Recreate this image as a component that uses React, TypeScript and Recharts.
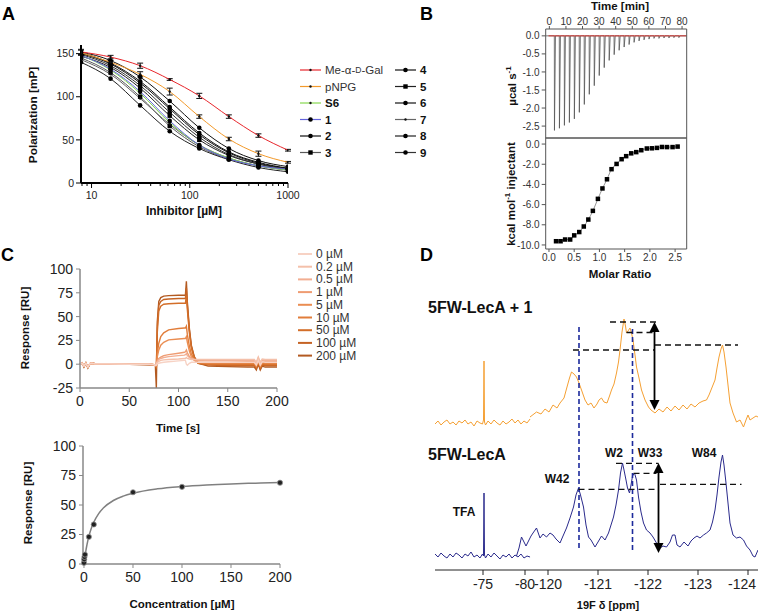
import React from 'react';
import { LineChart, Line, XAxis, YAxis, ReferenceLine, ErrorBar } from 'recharts';

const FONT = "'Liberation Sans', Arial, Helvetica, sans-serif";

// ---------------- Panel A : fluorescence polarization ----------------
const A_CONC = [7.8125, 15.625, 31.25, 62.5, 125, 250, 500, 1000];
const A_ME_GAL = [152, 146, 136, 120, 101, 77, 55, 38];
const A_ME_GAL_ERR = [3, 2, 3, 1, 3, 2, 2, 1];
const A_PNPG = [151, 140, 126, 106, 77, 51, 34, 24];
const A_PNPG_ERR = [3, 2, 3, 4, 2, 2, 3, 1];
const A_S6 = [148, 131, 104, 70, 44, 29, 20, 15];
const A_C1 = [148, 132, 106, 72, 44, 28, 20, 16];
const A_C2 = [150, 138, 116, 86, 56, 35, 23, 17];
const A_C3 = [145, 128, 100, 66, 42, 28, 20, 15];
const A_C4 = [152, 142, 123, 95, 64, 40, 26, 19];
const A_C5 = [147, 134, 110, 78, 50, 32, 22, 16];
const A_C6 = [151, 139, 118, 88, 58, 36, 24, 17];
const A_C7 = [143, 126, 98, 68, 44, 29, 20, 15];
const A_C8 = [140, 121, 90, 60, 40, 27, 18, 13];
const A_C9 = [149, 136, 113, 82, 53, 33, 22, 16];
const A_X_TICKS = [8, 9, 10, 20, 30, 40, 50, 60, 70, 80, 90, 100, 200, 300, 400, 500, 600, 700, 800, 900, 1000];
const A_X_LABELS = [10, 100, 1000];
const A_Y_TICKS = [0, 50, 100, 150];

const A_SERIES = [
  { key: 'c2', name: '2', values: A_C2, color: '#111111', bold: true, marker: 'circle', col: 0, row: 4 },
  { key: 'c3', name: '3', values: A_C3, color: '#5a5a5a', bold: true, marker: 'square', col: 0, row: 5 },
  { key: 'c4', name: '4', values: A_C4, color: '#111111', bold: true, marker: 'circle', col: 1, row: 0 },
  { key: 'c5', name: '5', values: A_C5, color: '#222222', bold: true, marker: 'square', col: 1, row: 1 },
  { key: 'c6', name: '6', values: A_C6, color: '#111111', bold: true, marker: 'circle', col: 1, row: 2 },
  { key: 'c7', name: '7', values: A_C7, color: '#666666', bold: true, marker: 'small', col: 1, row: 3 },
  { key: 'c8', name: '8', values: A_C8, color: '#222222', bold: true, marker: 'circle', col: 1, row: 4 },
  { key: 'c9', name: '9', values: A_C9, color: '#333333', bold: true, marker: 'circle', col: 1, row: 5 },
  { key: 's6', name: 'S6', values: A_S6, color: '#86d84f', bold: true, marker: 'small', col: 0, row: 2 },
  { key: 'c1', name: '1', values: A_C1, color: '#6464dc', bold: true, marker: 'circle', col: 0, row: 3 },
  { key: 'pnpg', name: 'pNPG', values: A_PNPG, err: A_PNPG_ERR, color: '#f39a2b', bold: false, marker: 'small', col: 0, row: 1 },
  { key: 'me', name: 'Me-α-D-Gal', values: A_ME_GAL, err: A_ME_GAL_ERR, color: '#e8262c', bold: false, marker: 'small', col: 0, row: 0 },
];

const A_TABLE = A_CONC.map((c, i) => {
  const row: any = { c };
  A_SERIES.forEach((s: any) => {
    row[s.key] = s.values[i];
    if (s.err) row[s.key + 'Err'] = s.err[i];
  });
  return row;
});

const A_PLOT_BOTTOM = 183;

const markerEl = (marker: string, cx: number, cy: number, color: string, key?: any) => {
  const fill = marker === 'small' ? '#111' : '#000';
  if (marker === 'square') return <rect key={key} x={cx - 2.2} y={cy - 2.2} width={4.4} height={4.4} fill={fill} />;
  if (marker === 'circle') return <circle key={key} cx={cx} cy={cy} r={2.3} fill={fill} />;
  return <circle key={key} cx={cx} cy={cy} r={1.2} fill={fill} />;
};

const makeDot = (marker: string, color: string) => (p: any) => {
  if (p.cx == null || p.cy == null) return <g key={p.index} />;
  return markerEl(marker, p.cx, p.cy, color, p.index);
};

const LogTick = (props: any) => {
  const { x, payload } = props;
  const v = payload.value;
  const major = A_X_LABELS.includes(v);
  const ay = A_PLOT_BOTTOM;
  return (
    <g>
      <line x1={x} x2={x} y1={ay} y2={ay + (major ? 5 : 3)} stroke="#000" strokeWidth={1} />
      {major && (
        <text x={x} y={ay + 16} textAnchor="middle" fontSize={10.5} fill="#222" fontFamily={FONT}>
          {v}
        </text>
      )}
    </g>
  );
};

const PanelA = () => (
  <LineChart width={300} height={230} margin={{ top: 45, right: 12, bottom: 17, left: 41 }}>
    <XAxis
      dataKey="c"
      type="number"
      scale="log"
      domain={[7.8125, 1000]}
      allowDataOverflow
      ticks={A_X_TICKS}
      interval={0}
      height={30}
      tickLine={false}
      tick={<LogTick />}
      axisLine={{ stroke: '#000', strokeWidth: 2 }}
    />
    <YAxis
      type="number"
      domain={[0, 160]}
      ticks={A_Y_TICKS}
      interval={0}
      width={40}
      tickSize={5}
      tickMargin={2}
      axisLine={{ stroke: '#000', strokeWidth: 2 }}
      tickLine={{ stroke: '#000' }}
      tick={{ fontSize: 10.5, fill: '#222', fontFamily: FONT }}
    />
    {A_SERIES.map((s: any) => (
      <Line
        key={s.key}
        data={A_TABLE}
        dataKey={s.key}
        type="monotone"
        stroke={s.color}
        strokeWidth={1}
        dot={makeDot(s.marker, s.color)}
        activeDot={false}
        isAnimationActive={false}
      >
        {s.err && <ErrorBar dataKey={s.key + 'Err'} width={3} stroke="#111" strokeWidth={1} />}
      </Line>
    ))}
  </LineChart>
);

// ---------------- Panel B : ITC ----------------
const ITC_INJ_TIME = [3, 6, 9, 12, 15, 18, 21, 24, 27, 30, 33, 36, 39, 42, 45, 48, 51, 54, 57, 60, 63, 66, 69, 72, 75, 78];
const ITC_PEAK = [-2.62, -2.56, -2.48, -2.4, -2.3, -2.12, -1.9, -1.62, -1.38, -1.1, -0.88, -0.68, -0.52, -0.4, -0.31, -0.24, -0.18, -0.14, -0.11, -0.09, -0.07, -0.07, -0.06, -0.06, -0.05, -0.05];
const ITC_TIME_TICKS = [0, 10, 20, 30, 40, 50, 60, 70, 80];
const ITC_RAW_TICKS = [0, -0.5, -1, -1.5, -2, -2.5];
const ITC_RATIO = [0.14, 0.23, 0.32, 0.42, 0.5, 0.6, 0.69, 0.78, 0.87, 0.97, 1.06, 1.15, 1.24, 1.34, 1.44, 1.53, 1.63, 1.73, 1.83, 1.94, 2.04, 2.14, 2.24, 2.34, 2.45, 2.55];
const ITC_HEAT = [-9.63, -9.63, -9.46, -9.46, -9.05, -8.72, -8.17, -7.48, -6.62, -5.43, -4.4, -3.49, -2.49, -1.97, -1.5, -1.2, -0.92, -0.8, -0.61, -0.44, -0.42, -0.38, -0.29, -0.3, -0.3, -0.25];
const ITC_RATIO_TICKS = [0, 0.5, 1, 1.5, 2, 2.5];
const ITC_HEAT_TICKS = [0, -2, -4, -6, -8, -10];

const ITC_TRACE = [
  { t: -2, v: 0 },
  ...ITC_INJ_TIME.flatMap((t, i) => [
    { t, v: 0 },
    { t: t + 0.08, v: ITC_PEAK[i] },
    { t: t + 0.7, v: 0 },
  ]),
  { t: 82.8, v: 0 },
];
const ITC_BASELINE = [
  { t: -0.5, v: 0 },
  { t: 82.8, v: 0 },
];
const ITC_POINTS = ITC_RATIO.map((r, i) => ({ r, h: ITC_HEAT[i] }));

const squareDot = (size: number, color: string) => (p: any) => {
  if (p.cx == null) return <g key={p.index} />;
  return <rect key={p.index} x={p.cx - size / 2} y={p.cy - size / 2} width={size} height={size} fill={color} />;
};

const itcTick = { fontSize: 10, fill: '#333', fontFamily: FONT };

const PanelBTop = () => (
  <LineChart width={378} height={150} margin={{ top: 3, right: 71.3, bottom: 12, left: 125.7 }}>
    <XAxis
      xAxisId="t"
      orientation="top"
      type="number"
      dataKey="t"
      domain={[-2.2, 82.8]}
      allowDataOverflow
      ticks={ITC_TIME_TICKS}
      interval={0}
      height={26}
      tickSize={3}
      tickMargin={1}
      tick={itcTick}
      axisLine={{ stroke: '#555' }}
      tickLine={{ stroke: '#555' }}
    />
    <XAxis
      xAxisId="b"
      orientation="bottom"
      type="number"
      dataKey="t"
      domain={[-2.2, 82.8]}
      allowDataOverflow
      ticks={ITC_TIME_TICKS}
      interval={0}
      mirror
      tick={false}
      tickSize={3}
      axisLine={{ stroke: '#555' }}
      tickLine={{ stroke: '#555' }}
    />
    <YAxis
      yAxisId="l"
      type="number"
      domain={[-2.83, 0.19]}
      allowDataOverflow
      ticks={ITC_RAW_TICKS}
      interval={0}
      width={40}
      tickSize={4}
      tickMargin={2}
      tickFormatter={(v: number) => v.toFixed(1)}
      tick={itcTick}
      axisLine={{ stroke: '#555' }}
      tickLine={{ stroke: '#555' }}
    />
    <YAxis
      yAxisId="r"
      orientation="right"
      type="number"
      domain={[-2.83, 0.19]}
      allowDataOverflow
      ticks={ITC_RAW_TICKS}
      interval={0}
      mirror
      tick={false}
      tickSize={3}
      axisLine={{ stroke: '#555' }}
      tickLine={{ stroke: '#555' }}
    />
    <Line xAxisId="t" yAxisId="l" data={ITC_TRACE} dataKey="v" type="linear" stroke="#555" strokeWidth={0.8} dot={false} activeDot={false} isAnimationActive={false} />
    <Line xAxisId="t" yAxisId="l" data={ITC_BASELINE} dataKey="v" type="linear" stroke="#d0312d" strokeWidth={1} dot={false} activeDot={false} isAnimationActive={false} />
  </LineChart>
);

const PanelBBottom = () => (
  <LineChart width={378} height={160} margin={{ top: 8, right: 71.3, bottom: 11, left: 125.7 }}>
    <XAxis
      xAxisId="m"
      orientation="bottom"
      type="number"
      dataKey="r"
      domain={[-0.065, 2.73]}
      allowDataOverflow
      ticks={ITC_RATIO_TICKS}
      interval={0}
      height={30}
      tickSize={3}
      tickMargin={2}
      tickFormatter={(v: number) => v.toFixed(1)}
      tick={itcTick}
      axisLine={{ stroke: '#555' }}
      tickLine={{ stroke: '#555' }}
    />
    <XAxis
      xAxisId="tp"
      orientation="top"
      type="number"
      dataKey="r"
      domain={[-0.065, 2.73]}
      allowDataOverflow
      ticks={ITC_RATIO_TICKS}
      interval={0}
      mirror
      tick={false}
      tickSize={3}
      axisLine={{ stroke: '#555' }}
      tickLine={{ stroke: '#555' }}
    />
    <YAxis
      yAxisId="l"
      type="number"
      domain={[-10.4, 0.6]}
      allowDataOverflow
      ticks={ITC_HEAT_TICKS}
      interval={0}
      width={40}
      tickSize={4}
      tickMargin={2}
      tickFormatter={(v: number) => v.toFixed(1)}
      tick={itcTick}
      axisLine={{ stroke: '#555' }}
      tickLine={{ stroke: '#555' }}
    />
    <YAxis
      yAxisId="r"
      orientation="right"
      type="number"
      domain={[-10.4, 0.6]}
      allowDataOverflow
      ticks={ITC_HEAT_TICKS}
      interval={0}
      mirror
      tick={false}
      tickSize={3}
      axisLine={{ stroke: '#555' }}
      tickLine={{ stroke: '#555' }}
    />
    <Line xAxisId="m" yAxisId="l" data={ITC_POINTS} dataKey="h" type="monotone" stroke="#777" strokeWidth={0.8} dot={squareDot(4.5, '#000')} activeDot={false} isAnimationActive={false} />
  </LineChart>
);

// ---------------- Panel C : SPR ----------------
const SPR_TIME = [0, 2, 4, 6, 8, 10, 12, 15, 30, 50, 70, 75, 76.5, 77.5, 78.5, 80, 82, 85, 90, 100, 106, 107, 108, 109, 111, 113, 116, 120, 130, 150, 170, 177, 179, 181, 183, 185, 188, 200];
const SPR_0 = [0, 1, -2, 1, -3, 0.5, 1, 0.5, 0.3, 0, 0, -0.5, -1.5, -1, 0.5, 1, 1.5, 2, 2.5, 3.5, 4, 4, 0, -1, 1, 2, 2, 2, 2, 2, 2, 2, -1, 4, -1, 2.5, 2, 2];
const SPR_02 = [0, 1, -2, 1, -3, 0.5, 1, 0.5, 0.3, 0, 0, -0.5, -1, 0.5, 2, 3, 4, 4.5, 5, 5.5, 6, 6, 7, 6, 5.5, 5, 5, 5, 5, 5, 5, 5, 2, 7.5, 2, 5.5, 5, 5];
const SPR_05 = [0, 1, -2, 1, -3, 0.5, 1, 0.5, 0.3, 0, 0, -0.5, -1, 0.5, 3, 5, 6, 7, 8, 9, 9.5, 10, 11, 9, 7, 6, 5, 4.5, 4, 4, 4, 4, 1, 6.5, 1, 4.5, 4, 4];
const SPR_1 = [0, 1, -2, 1, -3, 0.5, 1, 0.5, 0.3, 0, 0, -0.5, -1, 0, 4, 6, 7.5, 9, 10, 11.5, 12.5, 13, 15, 12, 8, 6, 5, 4, 3.5, 3.5, 3, 3, 0, 5.5, 0, 3.5, 3, 3];
const SPR_5 = [0, 1, -2, 1, -3, 0.5, 1, 0.5, 0.3, 0, 0, -0.5, -1, -1.5, 8, 15, 20, 23, 25.5, 26.5, 27, 27, 29, 23, 14, 8, 4, 2, 1.5, 1.5, 1.5, 1.5, -1.5, 4, -1.5, 2, 1.5, 1.5];
const SPR_10 = [0, 1, -2, 1, -3, 0.5, 1, 0.5, 0.3, 0, 0, -0.5, -1, -2, 12, 22, 29, 33, 36, 37.5, 38, 38, 40, 31, 19, 11, 5, 1.5, 0.5, 0.5, 0.5, 0.5, -2.5, 3, -2.5, 1, 0.5, 0.5];
const SPR_50 = [0, 1, -2, 1, -3, 0.5, 1, 0.5, 0.3, 0, 0, -0.5, -1, -3, 34, 56, 61, 63, 63.5, 64, 64, 64, 72, 57, 33, 17, 6.5, 1, 0, -0.5, -0.5, -0.5, -3.5, 2.5, -3.5, 0, -0.5, -0.5];
const SPR_100 = [0, 1, -2.5, 1.5, -3.5, 0, 1, 0.5, 0.3, 0, -0.3, -0.5, -1, -4, 40, 62, 66, 68, 68.5, 69, 69, 69, 80, 62, 36, 19, 7.5, 1, -1, -1.5, -1.5, -1.5, -4.5, 1.5, -4.5, -1, -1.5, -1.5];
const SPR_200 = [0, 1.5, -3, 1, -4, 0, 1.5, 0.5, 0.5, 0, -0.5, -0.5, -1.5, -25, 45, 66, 70, 71.5, 72, 72.5, 72.5, 72.5, 87, 65, 38, 20, 8, 1, -2, -2.5, -3, -3, -6, 0, -6, -2, -3, -3];
const SPR_LABELS = ['0 µM', '0.2 µM', '0.5 µM', '1 µM', '5 µM', '10 µM', '50 µM', '100 µM', '200 µM'];
const SPR_COLORS = ['#f7d2c4', '#f4c0aa', '#f2ae92', '#ef9c72', '#ea8d52', '#e17d3a', '#d36e29', '#c56324', '#b35a21'];
const SPR_SERIES = [SPR_0, SPR_02, SPR_05, SPR_1, SPR_5, SPR_10, SPR_50, SPR_100, SPR_200];
const SPR_TABLE = SPR_TIME.map((t, i) => {
  const row: any = { t };
  SPR_SERIES.forEach((s, k) => {
    row['s' + k] = s[i];
  });
  return row;
});
const SPR_X_TICKS = [0, 50, 100, 150, 200];
const SPR_Y_TICKS = [-25, 0, 25, 50, 75, 100];
const SPR_DRAW_ORDER = [8, 7, 6, 5, 4, 3, 2, 1, 0];

const KD_CONC = [0, 0.2, 0.5, 1, 5, 10, 50, 100, 200];
const KD_RESP = [1, 4, 6, 8, 23, 33.5, 60.8, 65.4, 68.9];
const KD_FIT_CONC = [0, 0.5, 1, 2, 3, 5, 7.5, 10, 15, 20, 30, 40, 50, 75, 100, 125, 150, 175, 200];
const KD_FIT_RESP = [0, 3.3, 6.3, 11.6, 16.1, 23.4, 30.3, 35.4, 42.7, 47.6, 53.8, 57.5, 60, 63.7, 65.7, 67, 67.9, 68.5, 69];
const KD_POINTS = KD_CONC.map((c, i) => ({ c, r: KD_RESP[i] }));
const KD_FIT = KD_FIT_CONC.map((c, i) => ({ c, r: KD_FIT_RESP[i] }));
const KD_X_TICKS = [0, 50, 100, 150, 200];
const KD_Y_TICKS = [0, 25, 50, 75, 100];

const cTick = { fontSize: 14, fill: '#222', fontFamily: FONT };

const PanelCTop = () => (
  <LineChart width={380} height={190} data={SPR_TABLE} margin={{ top: 24, right: 103, bottom: 17, left: 30 }}>
    <XAxis
      dataKey="t"
      type="number"
      domain={[0, 200]}
      ticks={SPR_X_TICKS}
      interval={0}
      height={30}
      tickSize={4}
      tickMargin={4}
      tick={cTick}
      axisLine={{ stroke: '#888', strokeWidth: 1.5 }}
      tickLine={{ stroke: '#888' }}
    />
    <YAxis
      type="number"
      domain={[-25, 100]}
      ticks={SPR_Y_TICKS}
      interval={0}
      width={50}
      tickSize={4}
      tickMargin={3}
      tick={cTick}
      axisLine={{ stroke: '#888', strokeWidth: 1.5 }}
      tickLine={{ stroke: '#888' }}
    />
    {SPR_DRAW_ORDER.map((k) => (
      <Line
        key={k}
        dataKey={'s' + k}
        type="linear"
        stroke={SPR_COLORS[k]}
        strokeWidth={1.4}
        dot={false}
        activeDot={false}
        isAnimationActive={false}
      />
    ))}
  </LineChart>
);

const PanelCBottom = () => (
  <LineChart width={380} height={183} margin={{ top: 16, right: 100, bottom: 19, left: 33 }}>
    <XAxis
      dataKey="c"
      type="number"
      domain={[-1, 200]}
      ticks={KD_X_TICKS}
      interval={0}
      height={30}
      tickSize={4}
      tickMargin={4}
      tick={cTick}
      axisLine={{ stroke: '#888', strokeWidth: 1.5 }}
      tickLine={{ stroke: '#888' }}
    />
    <YAxis
      type="number"
      domain={[0, 100]}
      ticks={KD_Y_TICKS}
      interval={0}
      width={50}
      tickSize={4}
      tickMargin={3}
      tick={cTick}
      axisLine={{ stroke: '#888', strokeWidth: 1.5 }}
      tickLine={{ stroke: '#888' }}
    />
    <Line data={KD_FIT} dataKey="r" type="monotone" stroke="#808080" strokeWidth={1.5} dot={false} activeDot={false} isAnimationActive={false} />
    <Line
      data={KD_POINTS}
      dataKey="r"
      type="linear"
      stroke="none"
      dot={(p: any) => (p.cx == null ? <g key={p.index} /> : <circle key={p.index} cx={p.cx} cy={p.cy} r={2.6} fill="#222" stroke="#999" strokeWidth={0.8} />)}
      activeDot={false}
      isAnimationActive={false}
    />
  </LineChart>
);

// ---------------- Panel D : 19F NMR ----------------
const D_LEFT_SCALE = 0.168;
const D_LEFT_OFFSET = 0.96;
const D_RIGHT_OFFSET = 2.26;
const toU = (ppm: number) => (ppm > -100 ? (-75 - ppm) * D_LEFT_SCALE + D_LEFT_OFFSET : -120 - ppm + D_RIGHT_OFFSET);

const D_TICK_PPM = [-75, -80, -120, -121, -122, -123, -124];
const D_TICK_LABELS = ['-75', '-80', '-120', '-121', '-122', '-123', '-124'];

const ORANGE_LEFT: [number, number][] = [
  [-69.29, 146], [-69.64, 149], [-70.0, 145], [-70.36, 148], [-70.71, 150], [-71.07, 146], [-71.43, 148], [-71.79, 145],
  [-72.14, 149], [-72.5, 147], [-72.86, 150], [-73.21, 146], [-73.57, 148], [-73.93, 144], [-74.29, 149], [-74.64, 147],
  [-74.94, 146], [-75.06, 150], [-75.12, 209], [-75.18, 148], [-75.3, 145], [-75.6, 149], [-75.95, 146], [-76.31, 150],
  [-76.67, 147], [-77.02, 145], [-77.38, 149], [-77.74, 146], [-78.1, 148], [-78.45, 151], [-78.81, 147], [-79.17, 150],
  [-79.52, 146], [-79.88, 149], [-80.24, 147], [-80.6, 151],
];
const ORANGE_RIGHT: [number, number][] = [
  [-119.64, 153], [-119.77, 158], [-119.86, 156], [-119.94, 161], [-120.02, 158], [-120.1, 165], [-120.18, 162], [-120.24, 167],
  [-120.32, 172], [-120.38, 183], [-120.43, 192], [-120.47, 198], [-120.52, 196], [-120.57, 193], [-120.62, 187], [-120.67, 180],
  [-120.74, 170], [-120.8, 165], [-120.86, 167], [-120.92, 162], [-120.98, 166], [-121.02, 170], [-121.07, 172], [-121.12, 168],
  [-121.18, 167], [-121.23, 174], [-121.27, 180], [-121.32, 186], [-121.37, 197], [-121.41, 208], [-121.44, 220], [-121.48, 238],
  [-121.52, 251], [-121.55, 244], [-121.57, 237], [-121.6, 239], [-121.64, 242], [-121.67, 237], [-121.7, 230], [-121.74, 215],
  [-121.77, 203], [-121.82, 192], [-121.87, 180], [-121.94, 170], [-122.01, 163], [-122.06, 160], [-122.14, 157], [-122.22, 161],
  [-122.3, 158], [-122.38, 163], [-122.46, 159], [-122.54, 164], [-122.62, 160], [-122.7, 165], [-122.78, 161], [-122.86, 166],
  [-122.94, 163], [-123.02, 167], [-123.1, 169], [-123.17, 170], [-123.22, 175], [-123.26, 180], [-123.3, 185], [-123.34, 190],
  [-123.38, 202], [-123.42, 213], [-123.46, 221], [-123.49, 225], [-123.52, 218], [-123.56, 203], [-123.6, 185], [-123.64, 167],
  [-123.7, 157], [-123.77, 148], [-123.84, 150], [-123.91, 143], [-123.96, 150], [-124.0, 155], [-124.04, 150], [-124.1, 152],
  [-124.16, 154], [-124.2, 153],
];
const BLUE_LEFT: [number, number][] = [
  [-69.29, 16], [-69.64, 13], [-70.0, 17], [-70.36, 14], [-70.71, 12], [-71.07, 16], [-71.43, 13], [-71.79, 17],
  [-72.14, 15], [-72.5, 12], [-72.86, 16], [-73.21, 14], [-73.57, 18], [-73.93, 13], [-74.29, 15], [-74.64, 12],
  [-74.94, 16], [-75.06, 14], [-75.12, 77], [-75.18, 15], [-75.3, 12], [-75.6, 16], [-75.95, 13], [-76.31, 17],
  [-76.67, 14], [-77.02, 11], [-77.38, 15], [-77.74, 13], [-78.1, 16], [-78.45, 12], [-78.81, 15], [-79.17, 13],
  [-79.52, 16], [-79.88, 12], [-80.24, 14], [-80.6, 13],
];
const BLUE_RIGHT: [number, number][] = [
  [-119.37, 14], [-119.42, 22], [-119.47, 33], [-119.52, 28], [-119.56, 24], [-119.62, 30], [-119.66, 34], [-119.7, 37],
  [-119.77, 42], [-119.84, 32], [-119.9, 36], [-119.97, 33], [-120.04, 37], [-120.1, 35], [-120.16, 31], [-120.24, 27],
  [-120.3, 34], [-120.37, 42], [-120.44, 52], [-120.51, 63], [-120.56, 75], [-120.61, 82], [-120.65, 75], [-120.71, 63],
  [-120.76, 45], [-120.81, 33], [-120.86, 30], [-120.94, 23], [-121.0, 28], [-121.07, 34], [-121.14, 30], [-121.21, 37],
  [-121.26, 45], [-121.31, 53], [-121.36, 65], [-121.41, 80], [-121.45, 97], [-121.49, 107], [-121.52, 100], [-121.56, 90],
  [-121.59, 82], [-121.63, 77], [-121.66, 85], [-121.69, 94], [-121.73, 97], [-121.77, 90], [-121.81, 73], [-121.86, 58],
  [-121.91, 47], [-121.97, 40], [-122.04, 37], [-122.1, 33], [-122.17, 27], [-122.24, 22], [-122.3, 24], [-122.37, 23],
  [-122.44, 28], [-122.49, 35], [-122.54, 35], [-122.58, 25], [-122.64, 23], [-122.72, 28], [-122.8, 24], [-122.86, 29],
  [-122.92, 32], [-122.98, 34], [-123.04, 32], [-123.11, 35], [-123.17, 37], [-123.24, 40], [-123.29, 48], [-123.34, 60],
  [-123.38, 75], [-123.42, 93], [-123.46, 108], [-123.49, 115], [-123.52, 105], [-123.56, 87], [-123.6, 67], [-123.64, 47],
  [-123.7, 35], [-123.77, 32], [-123.84, 33], [-123.91, 30], [-123.97, 24], [-124.04, 20], [-124.1, 14], [-124.14, 13],
  [-124.2, 20],
];
// dashed guide lines: [ppm start, ppm end, intensity]
const D_HDASH: [number, number, number][] = [
  [-121.24, -122.17, 248], [-121.57, -122.11, 237.5], [-120.5, -122.12, 220], [-122.14, -123.8, 225],
  [-121.36, -122.21, 106.7], [-121.71, -122.17, 96.7], [-120.61, -122.21, 80.7], [-122.24, -123.87, 85.7],
];
// vertical blue dashed lines: [ppm, intensity from, intensity to]
const D_VDASH: [number, number, number][] = [
  [-120.62, 22, 245], [-121.69, 20, 242],
];
// double arrows: [ppm, intensity from, intensity to]
const D_ARROWS: [number, number, number][] = [
  [-122.13, 160, 248], [-122.21, 17, 107],
];

const spec = (pairs: [number, number][]) => pairs.map(([ppm, v]) => ({ u: toU(ppm), v }));

const arrowShape = (p: any) => {
  const { x1, y1, y2 } = p;
  const top = Math.min(y1, y2);
  const bot = Math.max(y1, y2);
  return (
    <g>
      <line x1={x1} x2={x1} y1={top + 8} y2={bot - 8} stroke="#000" strokeWidth={1.8} />
      <polygon points={`${x1},${top} ${x1 - 5},${top + 10} ${x1 + 5},${top + 10}`} fill="#000" />
      <polygon points={`${x1},${bot} ${x1 - 5},${bot - 10} ${x1 + 5},${bot - 10}`} fill="#000" />
    </g>
  );
};

const DTick = (props: any) => {
  const { x, y, index } = props;
  const last = index === D_TICK_LABELS.length - 1;
  return (
    <text x={last ? x - 6 : x} y={y} dy="0.75em" textAnchor="middle" fontSize={14} fill="#222" fontFamily={FONT}>
      {D_TICK_LABELS[index]}
    </text>
  );
};

const PanelD = () => (
  <LineChart width={378} height={333} margin={{ top: 10, right: 0, bottom: 13, left: 55 }}>
    <XAxis
      dataKey="u"
      type="number"
      domain={[0, 6.46]}
      allowDataOverflow
      ticks={D_TICK_PPM.map(toU)}
      interval={0}
      height={30}
      tickSize={5}
      tickMargin={3}
      tick={<DTick />}
      axisLine={{ stroke: '#222' }}
      tickLine={{ stroke: '#222' }}
    />
    <YAxis hide type="number" domain={[0, 280]} allowDataOverflow />
    <Line data={spec(ORANGE_LEFT)} dataKey="v" type="linear" stroke="#f5a033" strokeWidth={1} dot={false} activeDot={false} isAnimationActive={false} />
    <Line data={spec(ORANGE_RIGHT)} dataKey="v" type="linear" stroke="#f5a033" strokeWidth={1} dot={false} activeDot={false} isAnimationActive={false} />
    <Line data={spec(BLUE_LEFT)} dataKey="v" type="linear" stroke="#2a2a8c" strokeWidth={1} dot={false} activeDot={false} isAnimationActive={false} />
    <Line data={spec(BLUE_RIGHT)} dataKey="v" type="linear" stroke="#2a2a8c" strokeWidth={1} dot={false} activeDot={false} isAnimationActive={false} />
    {D_VDASH.map(([ppm, a, b], i) => (
      <ReferenceLine key={'v' + i} segment={[{ x: toU(ppm), y: a }, { x: toU(ppm), y: b }]} stroke="#1c2a9c" strokeWidth={1.6} strokeDasharray="5 3" ifOverflow="visible" />
    ))}
    {D_HDASH.map(([p1, p2, v], i) => (
      <ReferenceLine key={'h' + i} segment={[{ x: toU(p1), y: v }, { x: toU(p2), y: v }]} stroke="#111" strokeWidth={1.3} strokeDasharray="6 4" ifOverflow="visible" />
    ))}
    {D_ARROWS.map(([ppm, a, b], i) => (
      <ReferenceLine key={'a' + i} segment={[{ x: toU(ppm), y: a }, { x: toU(ppm), y: b }]} stroke="#000" shape={arrowShape} ifOverflow="visible" />
    ))}
  </LineChart>
);

// ---------------- overlay texts ----------------
const T = (props: any) => <text fontFamily={FONT} {...props} />;

const LegendA = () => (
  <g>
    {A_SERIES.map((s: any) => {
      const x0 = s.col === 0 ? 300 : 395;
      const y = 70 + s.row * 16.5;
      const xt = s.col === 0 ? 325 : 420;
      return (
        <g key={s.key}>
          <line x1={x0} x2={x0 + 21} y1={y} y2={y} stroke={s.color} strokeWidth={1.2} />
          {markerEl(s.marker, x0 + 10.5, y, s.color)}
          <T x={xt} y={y} dominantBaseline="central" fontSize={11.5} fontWeight={s.bold ? 'bold' : 'normal'} fill={s.bold ? '#111' : '#333'}>
            {s.key === 'me' ? (
              <>
                Me-α-<tspan fontSize={8.5}>D</tspan>-Gal
              </>
            ) : (
              s.name
            )}
          </T>
        </g>
      );
    })}
  </g>
);

const LegendC = () => (
  <g>
    {SPR_LABELS.map((l, k) => {
      const y = 254 + k * 12.7;
      return (
        <g key={l}>
          <line x1={298} x2={312} y1={y} y2={y} stroke={SPR_COLORS[k]} strokeWidth={2} />
          <T x={316} y={y} dominantBaseline="central" fontSize={12} fill="#333">
            {l}
          </T>
        </g>
      );
    })}
  </g>
);

const Overlay = () => (
  <svg width={758} height={613} style={{ position: 'absolute', left: 0, top: 0, pointerEvents: 'none' }}>
    <T x={2} y={20} fontSize={18} fontWeight="bold" fill="#000">A</T>
    <T x={420} y={20} fontSize={18} fontWeight="bold" fill="#000">B</T>
    <T x={1} y={261} fontSize={18} fontWeight="bold" fill="#000">C</T>
    <T x={420} y={261} fontSize={18} fontWeight="bold" fill="#000">D</T>

    <T x={33} y={115} transform="rotate(-90 33 115)" textAnchor="middle" dominantBaseline="central" fontSize={11.8} fontWeight="bold" fill="#111">Polarization [mP]</T>
    <T x={184} y={211} textAnchor="middle" dominantBaseline="central" fontSize={12} fontWeight="bold" fill="#111">Inhibitor [µM]</T>
    <LegendA />

    <T x={620} y={6} textAnchor="middle" dominantBaseline="central" fontSize={11.5} fontWeight="bold" fill="#111">Time [min]</T>
    <T x={512} y={86} transform="rotate(-90 512 86)" textAnchor="middle" dominantBaseline="central" fontSize={11.5} fontWeight="bold" fill="#111">
      µcal s<tspan dy={-4} fontSize={8}>-1</tspan>
    </T>
    <T x={511} y={194} transform="rotate(-90 511 194)" textAnchor="middle" dominantBaseline="central" fontSize={11.5} fontWeight="bold" fill="#111">
      kcal mol<tspan dy={-4} fontSize={8}>-1</tspan>
      <tspan dy={4}> injectant</tspan>
    </T>
    <T x={620} y={274} textAnchor="middle" dominantBaseline="central" fontSize={11.5} fontWeight="bold" fill="#111">Molar Ratio</T>

    <T x={25} y={328} transform="rotate(-90 25 328)" textAnchor="middle" dominantBaseline="central" fontSize={11.5} fontWeight="bold" fill="#111">Response [RU]</T>
    <T x={178} y={428} textAnchor="middle" dominantBaseline="central" fontSize={11.5} fontWeight="bold" fill="#111">Time [s]</T>
    <LegendC />
    <T x={28} y={503} transform="rotate(-90 28 503)" textAnchor="middle" dominantBaseline="central" fontSize={11.5} fontWeight="bold" fill="#111">Response [RU]</T>
    <T x={182} y={604} textAnchor="middle" dominantBaseline="central" fontSize={11.5} fontWeight="bold" fill="#111">Concentration [µM]</T>

    <T x={428} y={307} dominantBaseline="central" fontSize={16} fontWeight="bold" fill="#111">5FW-LecA + 1</T>
    <T x={428} y={454} dominantBaseline="central" fontSize={16} fontWeight="bold" fill="#111">5FW-LecA</T>
    <T x={557} y={479} textAnchor="middle" dominantBaseline="central" fontSize={12} fontWeight="bold" fill="#111">W42</T>
    <T x={614} y={453} textAnchor="middle" dominantBaseline="central" fontSize={12} fontWeight="bold" fill="#111">W2</T>
    <T x={650} y={453} textAnchor="middle" dominantBaseline="central" fontSize={12} fontWeight="bold" fill="#111">W33</T>
    <T x={704} y={453} textAnchor="middle" dominantBaseline="central" fontSize={12} fontWeight="bold" fill="#111">W84</T>
    <T x={464} y={512} textAnchor="middle" dominantBaseline="central" fontSize={12} fontWeight="bold" fill="#111">TFA</T>
    <T x={608} y={605} textAnchor="middle" dominantBaseline="central" fontSize={11} fontWeight="bold" fill="#111">19F δ [ppm]</T>
  </svg>
);

export default function App() {
  return (
    <div style={{ position: 'absolute', left: 0, top: 0, width: 758, height: 613, background: '#fff', overflow: 'hidden', fontFamily: FONT }}>
      <div style={{ position: 'absolute', left: 0, top: 0 }}>
        <PanelA />
      </div>
      <div style={{ position: 'absolute', left: 380, top: 0 }}>
        <PanelBTop />
      </div>
      <div style={{ position: 'absolute', left: 380, top: 130 }}>
        <PanelBBottom />
      </div>
      <div style={{ position: 'absolute', left: 0, top: 245 }}>
        <PanelCTop />
      </div>
      <div style={{ position: 'absolute', left: 0, top: 430 }}>
        <PanelCBottom />
      </div>
      <div style={{ position: 'absolute', left: 380, top: 280 }}>
        <PanelD />
      </div>
      <Overlay />
    </div>
  );
}
